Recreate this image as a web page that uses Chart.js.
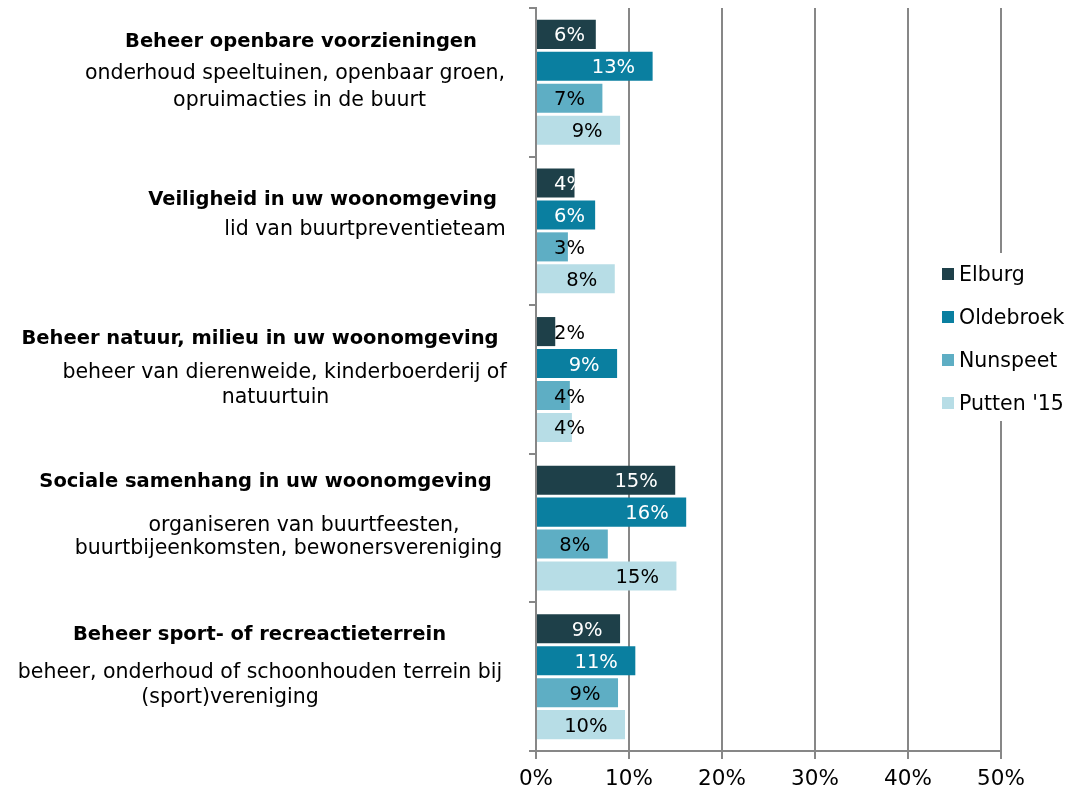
<!DOCTYPE html>
<html>
<head>
<meta charset="utf-8">
<script src="https://cdn.jsdelivr.net/npm/chart.js@4/dist/chart.umd.min.js"></script>
<style>
  html, body { margin: 0; padding: 0; background: #ffffff; }
  #wrap { width: 1073px; height: 791px; position: relative; }
</style>
</head>
<body>
<div id="wrap"><canvas id="chart" width="1073" height="791"></canvas></div>
<script>
// Participation per type of neighbourhood activity (% of residents)
const categoryTitles = [
  'Beheer openbare voorzieningen',
  'Veiligheid in uw woonomgeving',
  'Beheer natuur, milieu in uw woonomgeving',
  'Sociale samenhang in uw woonomgeving',
  'Beheer sport- of recreactieterrein'
];
const categoryDetails = [
  ['onderhoud speeltuinen, openbaar groen,', 'opruimacties in de buurt'],
  ['lid van buurtpreventieteam'],
  ['beheer van dierenweide, kinderboerderij of', 'natuurtuin'],
  ['organiseren van buurtfeesten,', 'buurtbijeenkomsten, bewonersvereniging'],
  ['beheer, onderhoud of schoonhouden terrein bij', '(sport)vereniging']
];
const seriesNames = ['Elburg', 'Oldebroek', 'Nunspeet', "Putten '15"];
const elburg    = [6.43, 4.14, 2.07, 14.97, 9.04];
const oldebroek = [12.54, 6.36, 8.72, 16.15, 10.68];
const nunspeet  = [7.14, 3.43, 3.64, 7.72, 8.82];
const putten    = [9.04, 8.47, 3.86, 15.10, 9.57];
const xTickValues = [0, 10, 20, 30, 40, 50];

// Colours and text styling
const seriesColors = ['#1e4049', '#0a7fa0', '#5eaec4', '#b7dde6'];
const valueTextColors = [
  ['#ffffff', '#ffffff', '#000000', '#ffffff', '#ffffff'],
  ['#ffffff', '#ffffff', '#ffffff', '#ffffff', '#ffffff'],
  ['#000000', '#000000', '#000000', '#000000', '#000000'],
  ['#000000', '#000000', '#000000', '#000000', '#000000']
];
const FONT = '"DejaVu Sans", Verdana, sans-serif';
const GRID = '#878787';

// Placement of each category label line: [centre x, baseline offset from category centre]
const labelLayout = [
  [[301, -35.6], [295, -3], [299.5, 23.7]],
  [[322.5, -26], [365, 4]],
  [[260, -35.2], [284.5, -1.8], [275.5, 23.8]],
  [[265.5, -40.8], [304, 2.9], [288.5, 26.2]],
  [[259.5, -36.7], [260, 1.6], [230, 26.6]]
];

// Bold title plus normal detail lines left of the y axis
const categoryLabelPlugin = {
  id: 'categoryLabels',
  afterDraw(chart) {
    const ctx = chart.ctx;
    const y = chart.scales.y;
    ctx.save();
    ctx.fillStyle = '#000000';
    ctx.textAlign = 'center';
    ctx.textBaseline = 'alphabetic';
    categoryTitles.forEach((title, i) => {
      const cy = y.getPixelForValue(i);
      const lay = labelLayout[i];
      ctx.font = 'bold 19.5px ' + FONT;
      ctx.fillText(title, lay[0][0], cy + lay[0][1]);
      ctx.font = '20.5px ' + FONT;
      categoryDetails[i].forEach((line, j) => {
        ctx.fillText(line, lay[j + 1][0], cy + lay[j + 1][1]);
      });
    });
    ctx.restore();
  }
};

// Rounded percentage labels inside the bar ends
const valueLabelPlugin = {
  id: 'valueLabels',
  afterDatasetsDraw(chart) {
    const ctx = chart.ctx;
    ctx.save();
    ctx.font = '19.5px ' + FONT;
    ctx.textAlign = 'right';
    ctx.textBaseline = 'middle';
    chart.data.datasets.forEach((ds, di) => {
      const meta = chart.getDatasetMeta(di);
      meta.data.forEach((bar, i) => {
        const txt = Math.round(ds.data[i]) + '%';
        const w = ctx.measureText(txt).width;
        const right = Math.max(bar.x - 17.5, bar.base + 17 + w);
        ctx.fillStyle = valueTextColors[di][i];
        ctx.fillText(txt, right, bar.y + 2);
      });
    });
    ctx.restore();
  }
};

// Vertical legend on a white box over the right part of the plot
const legendPlugin = {
  id: 'sideLegend',
  afterDraw(chart) {
    const ctx = chart.ctx;
    ctx.save();
    ctx.fillStyle = '#ffffff';
    ctx.fillRect(934, 253, 139, 168);
    ctx.font = '20.5px ' + FONT;
    ctx.textAlign = 'left';
    ctx.textBaseline = 'alphabetic';
    chart.data.datasets.forEach((ds, i) => {
      const top = 268 + i * 43;
      ctx.fillStyle = ds.backgroundColor;
      ctx.fillRect(942, top, 12, 12);
      ctx.fillStyle = '#000000';
      ctx.fillText(ds.label, 959, top + 12.5);
    });
    ctx.restore();
  }
};

const seriesValues = [elburg, oldebroek, nunspeet, putten];

new Chart(document.getElementById('chart'), {
  type: 'bar',
  data: {
    labels: categoryTitles,
    datasets: seriesNames.map((name, i) => ({
      label: name,
      data: seriesValues[i],
      backgroundColor: seriesColors[i],
      borderWidth: 0,
      categoryPercentage: 0.86,
      barPercentage: 0.91
    }))
  },
  options: {
    indexAxis: 'y',
    responsive: false,
    animation: false,
    layout: { padding: { top: 8, right: 72, left: 0, bottom: 0 } },
    plugins: { legend: { display: false }, tooltip: { enabled: false } },
    scales: {
      x: {
        min: 0,
        max: 50,
        afterBuildTicks(scale) {
          scale.ticks = xTickValues.map(v => ({ value: v }));
        },
        afterFit(scale) { scale.height = 40; },
        ticks: {
          color: '#000000',
          font: { family: FONT, size: 21.5 },
          padding: 8,
          maxRotation: 0,
          callback: v => v + '%'
        },
        grid: { color: GRID, lineWidth: 2, tickLength: 8, drawTicks: true },
        border: { display: true, color: GRID, width: 2 }
      },
      y: {
        offset: true,
        afterFit(scale) { scale.width = 536; },
        ticks: { display: false },
        grid: { offset: true, drawOnChartArea: false, drawTicks: true, tickLength: 7, color: GRID, lineWidth: 2 },
        border: { display: true, color: GRID, width: 2 }
      }
    }
  },
  plugins: [categoryLabelPlugin, valueLabelPlugin, legendPlugin]
});
</script>
</body>
</html>
